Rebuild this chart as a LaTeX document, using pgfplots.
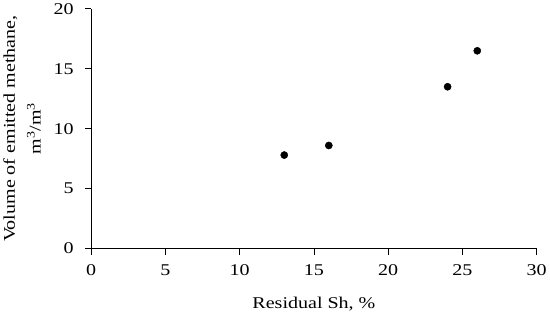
\documentclass[border=0pt]{standalone}
\usepackage{fontspec}
\setmainfont[FakeStretch=1.22]{Liberation Serif}
\usepackage{pgfplots}
\pgfplotsset{compat=1.18}
\begin{document}
\begin{tikzpicture}
\begin{axis}[
  scale only axis, width=446bp, height=240bp,
  xmin=0, xmax=30, ymin=0, ymax=20,
  xtick={0,5,...,30}, ytick={0,5,...,20},
  axis x line*=bottom, axis y line*=left,
  tick align=outside, major tick length=6bp,
  axis line style={line width=0.8pt}, tick style={line width=0.8pt, black},
  /pgf/number format/assume math mode=true,
  tick label style={font=\fontsize{16.5}{20}\selectfont},
  label style={font=\fontsize{16.5}{26}\selectfont},
  xticklabel style={yshift=-7bp},
  yticklabel style={xshift=-8bp},
  xlabel={Residual Sh, \%},
  xlabel style={yshift=-14bp},
  ylabel={Volume of emitted methane,\\m\textsuperscript{3}/m\textsuperscript{3}},
  ylabel style={align=center, yshift=6bp},
  clip=false]
  \addplot[only marks, mark=*, mark size=3.6bp, black] coordinates {(13,7.8) (16,8.6) (24,13.5) (26,16.5)};
\end{axis}
\end{tikzpicture}
\end{document}
